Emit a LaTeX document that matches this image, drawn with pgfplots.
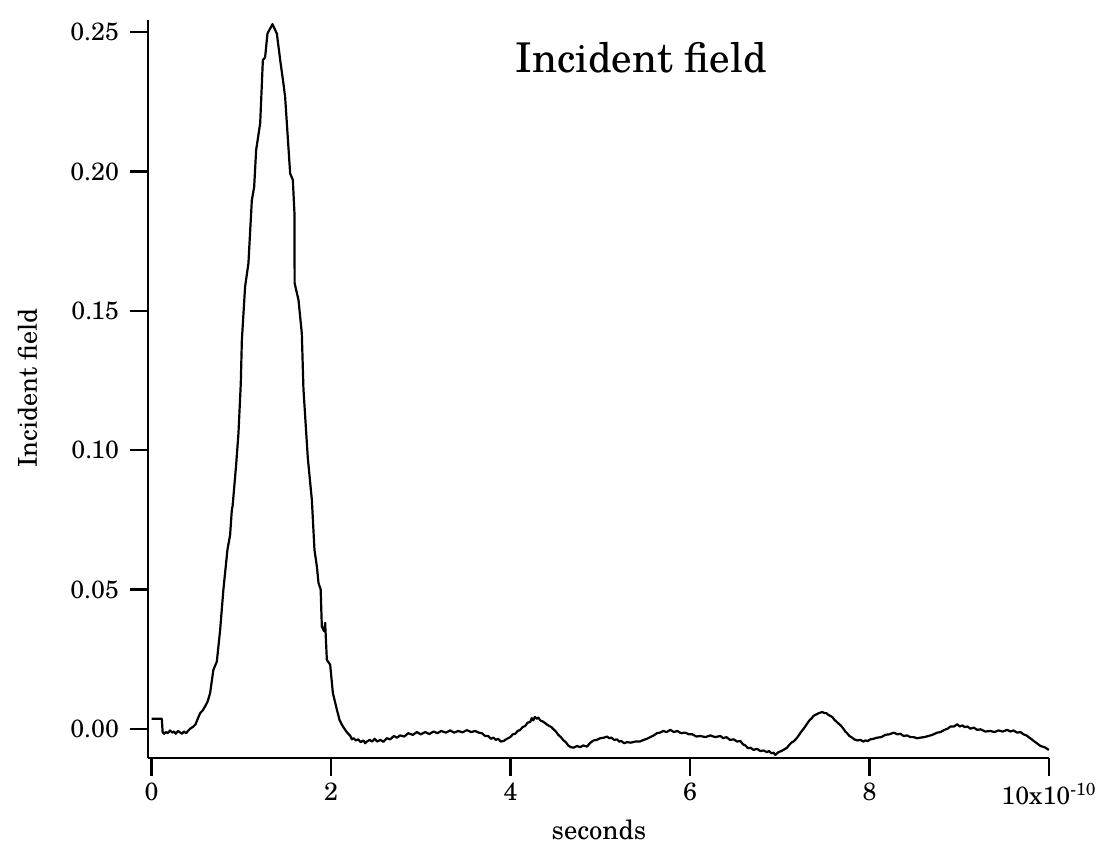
\documentclass[border=0pt]{standalone}
\usepackage{fontspec}
\setmainfont{TeX Gyre Schola}
\usepackage{pgfplots}
\pgfplotsset{compat=1.18}
\begin{document}
\begin{tikzpicture}
\useasboundingbox (-74pt,-48.5pt) rectangle (479.5pt,379pt);
\begin{axis}[
  at={(0,0)}, anchor=south west,
  scale only axis, width=450.5pt, height=369pt,
  xmin=-0.04, xmax=10, ymin=-0.0105, ymax=0.2544,
  axis lines*=left,
  axis line style={-, line width=1.2pt},
  tick align=outside, major tick length=9pt,
  every tick/.style={line width=1.2pt, black},
  xtick={0,2,4,6,8,10},
  xticklabels={0,2,4,6,8,{10x10\textsuperscript{-10}}},
  ytick={0,0.05,0.10,0.15,0.20,0.25},
  yticklabels={0.00,0.05,0.10,0.15,0.20,0.25},
  tick label style={font=\fontsize{12.5}{14}\selectfont},
  yticklabel style={xshift=-2pt},
  /pgf/number format/assume math mode=true,
  clip=false,
]
\addplot[black, line width=1.1pt, line join=round] coordinates {
(0.00,0.0036)(0.114,0.0036)(0.123,-0.0012)(0.14,-0.0018)(0.16,-0.0012)(0.18,-0.0016)(0.206,-0.0006)(0.23,-0.0014)(0.25,-0.0010)(0.27,-0.0018)
(0.295,-0.0008)(0.32,-0.0014)(0.34,-0.0018)(0.36,-0.0010)(0.385,-0.0016)(0.41,-0.0006)(0.43,0.0000)(0.466,0.0008)(0.49,0.0016)(0.507,0.0030)
(0.541,0.0056)(0.57,0.0066)(0.596,0.0080)(0.625,0.0098)(0.652,0.0128)(0.689,0.0212)(0.727,0.0241)(0.764,0.0355)(0.800,0.0499)(0.845,0.0642)
(0.875,0.0696)(0.894,0.0785)(0.903,0.080)(0.942,0.0947)(0.968,0.106)(0.994,0.124)(1.006,0.1395)(1.042,0.1587)(1.079,0.167)(1.117,0.1897)
(1.143,0.1945)(1.165,0.2077)(1.210,0.2173)(1.240,0.240)(1.265,0.241)(1.291,0.2495)(1.347,0.2529)(1.396,0.2495)(1.433,0.240)(1.469,0.2316)
(1.488,0.2268)(1.544,0.1993)(1.574,0.197)(1.592,0.185)(1.594,0.1599)(1.637,0.1539)(1.674,0.1419)(1.692,0.122)(1.741,0.0971)(1.786,0.0821)
(1.815,0.0642)(1.842,0.0582)(1.860,0.0523)(1.884,0.050)(1.897,0.0367)(1.923,0.035)(1.934,0.0380)(1.953,0.0247)(1.990,0.0230)(2.020,0.0128)
(2.045,0.0095)(2.065,0.0068)(2.094,0.0032)(2.125,0.0012)(2.157,-0.0004)(2.185,-0.0016)(2.213,-0.0025)(2.232,-0.0038)(2.250,-0.0034)(2.276,-0.0042)
(2.302,-0.0038)(2.33,-0.0048)(2.361,-0.0042)(2.38,-0.0052)(2.399,-0.0046)(2.43,-0.0040)(2.458,-0.0046)(2.486,-0.0036)(2.514,-0.0046)(2.55,-0.0040)
(2.584,-0.0047)(2.62,-0.0034)(2.659,-0.0038)(2.70,-0.0026)(2.734,-0.0032)(2.770,-0.0024)(2.815,-0.0028)(2.860,-0.0016)(2.91,-0.0022)(2.957,-0.0012)
(3.00,-0.0020)(3.049,-0.0012)(3.095,-0.0019)(3.142,-0.0010)(3.185,-0.0016)(3.227,-0.0008)(3.28,-0.0014)(3.328,-0.0006)(3.37,-0.0014)(3.417,-0.0008)
(3.465,-0.0013)(3.514,-0.0005)(3.56,-0.0012)(3.606,-0.0008)(3.645,-0.0014)(3.681,-0.0016)(3.716,-0.0026)(3.751,-0.0026)(3.78,-0.0036)(3.810,-0.0032)
(3.836,-0.0040)(3.863,-0.0036)(3.89,-0.0046)(3.922,-0.0044)(3.96,-0.0036)(3.997,-0.0030)(4.025,-0.0020)(4.052,-0.0018)(4.08,-0.0008)(4.108,-0.0004)
(4.135,0.0006)(4.164,0.0010)(4.19,0.0022)(4.219,0.0024)(4.236,0.0038)(4.253,0.0030)(4.27,0.0042)(4.294,0.0036)(4.31,0.0040)(4.331,0.0030)
(4.36,0.0026)(4.387,0.0020)(4.41,0.0014)(4.431,0.0010)(4.455,0.0006)(4.479,-0.0002)(4.505,-0.0010)(4.532,-0.0022)(4.56,-0.0030)(4.591,-0.0042)
(4.615,-0.0048)(4.643,-0.0060)(4.67,-0.0066)(4.702,-0.0068)(4.74,-0.0062)(4.777,-0.0066)(4.81,-0.0060)(4.852,-0.0064)(4.89,-0.0050)(4.925,-0.0042)
(4.96,-0.0040)(5.000,-0.0034)(5.04,-0.0032)(5.075,-0.0028)(5.10,-0.0034)(5.123,-0.0032)(5.155,-0.0040)(5.186,-0.0038)(5.21,-0.0046)(5.234,-0.0044)
(5.265,-0.0052)(5.298,-0.0048)(5.34,-0.0050)(5.390,-0.0046)(5.44,-0.0046)(5.483,-0.0040)(5.52,-0.0036)(5.557,-0.0030)(5.595,-0.0024)(5.632,-0.0016)
(5.665,-0.0014)(5.702,-0.0008)(5.74,-0.0012)(5.780,-0.0004)(5.82,-0.0012)(5.858,-0.0008)(5.90,-0.0016)(5.948,-0.0014)(5.985,-0.0020)(6.026,-0.0020)
(6.07,-0.0028)(6.115,-0.0026)(6.17,-0.0030)(6.227,-0.0024)(6.28,-0.0030)(6.338,-0.0026)(6.37,-0.0034)(6.405,-0.0030)(6.445,-0.0040)(6.486,-0.0038)
(6.525,-0.0046)(6.561,-0.0044)(6.59,-0.0056)(6.617,-0.0060)(6.645,-0.0070)(6.672,-0.0068)(6.709,-0.0076)(6.745,-0.0072)(6.784,-0.0080)(6.82,-0.0078)
(6.858,-0.0084)(6.88,-0.0080)(6.906,-0.0088)(6.93,-0.0086)(6.951,-0.0094)(6.985,-0.0084)(7.018,-0.0080)(7.05,-0.0074)(7.081,-0.0068)(7.105,-0.0058)
(7.129,-0.0050)(7.16,-0.0044)(7.193,-0.0032)(7.215,-0.0022)(7.241,-0.0010)(7.27,0.0002)(7.304,0.0018)(7.33,0.0030)(7.352,0.0036)(7.375,0.0046)
(7.397,0.0050)(7.435,0.0056)(7.472,0.0060)(7.50,0.0056)(7.519,0.0056)(7.54,0.0050)(7.564,0.0046)(7.585,0.0042)(7.609,0.0032)(7.63,0.0026)
(7.657,0.0018)(7.685,0.0010)(7.709,0.0000)(7.73,-0.0010)(7.750,-0.0016)(7.775,-0.0026)(7.798,-0.0030)(7.83,-0.0038)(7.862,-0.0042)(7.90,-0.0040)
(7.93,-0.0046)(7.954,-0.0042)(7.98,-0.0044)(8.010,-0.0038)(8.045,-0.0036)(8.085,-0.0032)(8.13,-0.0030)(8.177,-0.0022)(8.22,-0.0020)(8.270,-0.0014)
(8.31,-0.0020)(8.344,-0.0018)(8.38,-0.0026)(8.419,-0.0024)(8.455,-0.0030)(8.490,-0.0030)(8.53,-0.0034)(8.567,-0.0032)(8.61,-0.0030)(8.657,-0.0026)
(8.70,-0.0022)(8.754,-0.0014)(8.79,-0.0012)(8.835,-0.0004)(8.87,0.0000)(8.902,0.0008)(8.94,0.0008)(8.977,0.0016)(9.005,0.0008)(9.036,0.0012)
(9.06,0.0006)(9.091,0.0008)(9.125,0.0000)(9.162,0.0004)(9.20,-0.0004)(9.236,-0.0002)(9.29,-0.0010)(9.348,-0.0008)(9.39,-0.0012)(9.437,-0.0006)
(9.485,-0.0010)(9.534,-0.0004)(9.57,-0.0010)(9.604,-0.0006)(9.645,-0.0014)(9.682,-0.0012)(9.715,-0.0020)(9.749,-0.0024)(9.79,-0.0034)(9.830,-0.0044)
(9.865,-0.0052)(9.905,-0.0062)(9.95,-0.0066)(9.998,-0.0076)
};
\end{axis}
\node[anchor=base west, inner sep=0pt, font=\fontsize{20.5}{24}\selectfont] at (183.5pt,342.5pt) {Incident field};
\node[rotate=90, anchor=base, inner sep=0pt, font=\fontsize{13}{15}\selectfont] at (-55.5pt,185pt) {Incident field};
\node[anchor=base, inner sep=0pt, font=\fontsize{13.3}{15}\selectfont] at (225.5pt,-41pt) {seconds};
\end{tikzpicture}
\end{document}
